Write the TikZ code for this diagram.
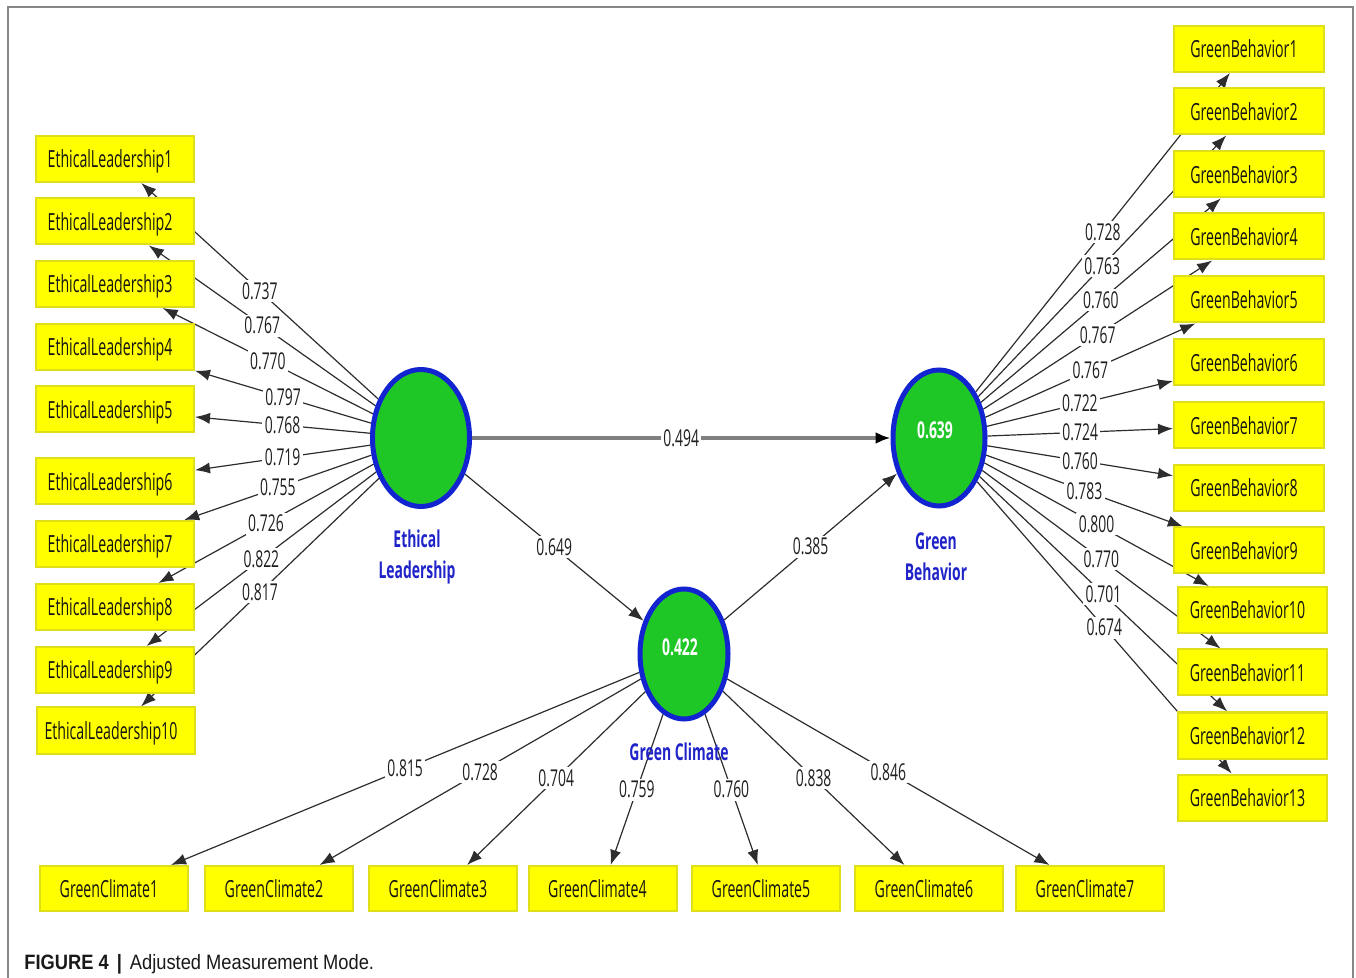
\documentclass[tikz,border=0pt]{standalone}
\usepackage{fontspec}
\setmainfont{Liberation Sans}
\newfontfamily\plsfont[FakeStretch=0.6]{Open Sans}
\newfontfamily\capfont[FakeStretch=0.88]{Liberation Sans}
\usetikzlibrary{arrows.meta}
\usetikzlibrary{shapes.geometric}
\definecolor{boxyellow}{RGB}{255,255,0}
\definecolor{boxedge}{RGB}{222,222,25}
\definecolor{latgreen}{RGB}{31,199,38}
\definecolor{latblue}{RGB}{18,36,208}
\definecolor{lblblue}{RGB}{32,36,200}
\definecolor{edgegray}{RGB}{45,45,45}
\definecolor{framegray}{RGB}{135,135,135}
\pgfdeclarelayer{edges}
\pgfdeclarelayer{values}
\pgfsetlayers{edges,values,main}
\tikzstyle{indicator}=[draw=boxedge,fill=boxyellow,line width=1pt,minimum width=79pt,minimum height=23pt,inner sep=0pt,text height=10.6pt,text depth=2pt,text=black!92,font=\plsfont\fontsize{11.8}{13}\selectfont,execute at begin node={\hspace*{-5pt}}]
\tikzstyle{latent}=[ellipse,draw=latblue,fill=latgreen,line width=2.5pt,inner sep=0pt]
\tikzstyle{latname}=[align=center,text=lblblue,font=\plsfont\bfseries\fontsize{11.6}{15.5}\selectfont]
\tikzstyle{rsq}=[text=white,font=\plsfont\bfseries\fontsize{11.6}{13}\selectfont]
\tikzstyle{loading}=[draw=edgegray,line width=0.6pt,-{Latex[length=7.5pt,width=5.6pt]}]
\tikzstyle{coef}=[fill=white,inner sep=1.2pt,text=black!88,font=\plsfont\fontsize{11.6}{13}\selectfont]
\newcommand{\drawloading}[4][0.5]{% [pos] {from}{to}{value}
  \begin{pgfonlayer}{edges}
    \draw[loading] (#2) -- (#3);
  \end{pgfonlayer}
  \begin{pgfonlayer}{values}
    \path (#2) -- (#3) node[coef,pos=#1] {#4};
  \end{pgfonlayer}
}

\begin{document}
\begin{tikzpicture}[x=0.5pt,y=-0.5pt]
\useasboundingbox (0,0) rectangle (1356,978);
% frame
\draw[framegray,line width=0.8pt] (8,978) -- (8,7) -- (1353,7) -- (1353,978);
% latent variables
\node[latent,minimum width=48.5pt,minimum height=68.5pt] (el) at (421,438) {};
\node[latent,minimum width=46pt,minimum height=68pt] (gb) at (939,438) {};
\node[latent,minimum width=44pt,minimum height=65pt] (gc) at (684,654) {};
\node[rsq] (gbval) at (935,430) {0.639};
\node[rsq] (gcval) at (680,647) {0.422};
\node[latname] (elname) at (417,557) {Ethical\\Leadership};
\node[latname] (gbname) at (936,557) {Green\\Behavior};
\node[latname] (gcname) at (679,752) {Green Climate};
% indicator boxes
\foreach \i/\y in {1/159,2/221.5,3/284,4/347,5/409.5,6/481.5,7/544,8/607,9/670} {
  \node[indicator] (el\i) at (115,\y) {EthicalLeadership\i};
}
\node[indicator] (el10) at (116,730.5) {EthicalLeadership10};
\foreach \i/\y in {1/49,2/111.5,3/174.5,4/236.5,5/299.5,6/362.5,7/425.5,8/488,9/550.5} {
  \node[indicator,minimum width=75pt] (gb\i) at (1249,\y) {GreenBehavior\i};
}
\foreach \i/\y in {10/610,11/672.5,12/735.5,13/797.5} {
  \node[indicator,minimum width=74.5pt] (gb\i) at (1252.5,\y) {GreenBehavior\i};
}
\foreach \i/\x in {1/114,2/279,3/443,4/602.5,5/766,6/929,7/1090} {
  \node[indicator,minimum width=74pt,minimum height=22.5pt] (gc\i) at (\x,888.5) {GreenClimate\i};
}
% outer loadings
\foreach \i/\v in {1/0.737,2/0.767,3/0.770,4/0.797,5/0.768,6/0.719,7/0.755,8/0.726,9/0.822,10/0.817} {
  \drawloading{el}{el\i}{\v}
}
\foreach \i/\v in {1/0.728,2/0.763,3/0.760,4/0.767,5/0.767,6/0.722,7/0.724,8/0.760,9/0.783,10/0.800,11/0.770,12/0.701,13/0.674} {
  \drawloading{gb}{gb\i}{\v}
}
\foreach \i/\v in {1/0.815,2/0.728,3/0.704,4/0.759,5/0.760,6/0.838,7/0.846} {
  \drawloading{gc}{gc\i}{\v}
}
% path coefficients
\begin{pgfonlayer}{edges}
  \draw[draw=black!50,line width=1.6pt,-{Latex[length=7.5pt,width=6pt,color=black]}] (el) -- (gb);
\end{pgfonlayer}
\begin{pgfonlayer}{values}
  \path (el) -- (gb) node[coef,pos=0.5] {0.494};
\end{pgfonlayer}
\drawloading{el}{gc}{0.649}
\drawloading{gc}{gb}{0.385}
% caption
\node[anchor=base west,inner sep=0pt,text=black!90,font=\capfont\fontsize{10.4}{12}\selectfont] (caption) at (24,969) {\textbf{FIGURE 4}\hspace{4pt}\textbf{|}\hspace{4pt}Adjusted Measurement Mode.};
\end{tikzpicture}
\end{document}
